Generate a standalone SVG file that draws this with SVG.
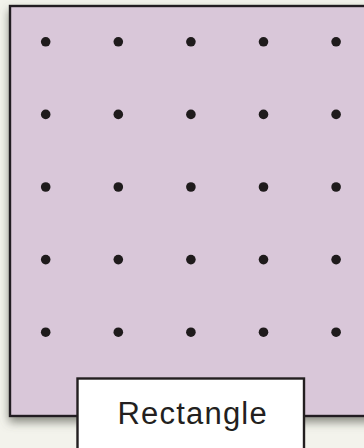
<svg xmlns="http://www.w3.org/2000/svg" width="364" height="448" viewBox="0 0 364 448">
  <defs>
    <style>
      .frame { stroke: #231f20; stroke-width: 2.4; }
      .dot { fill: #1f1b1c; }
      .label { font-family: "Liberation Sans", Arial, Helvetica, sans-serif; font-size: 31px; letter-spacing: 1.2px; fill: #231f20; }
    </style>
    <filter id="shadow" x="-10%" y="-10%" width="120%" height="130%">
      <feDropShadow dx="0" dy="5" stdDeviation="5" flood-color="#5c5f55" flood-opacity="0.7"/>
    </filter>
  </defs>
  <rect x="0" y="0" width="364" height="448" fill="#f3f3ec"/>
  <g id="rectangle">
    <rect class="frame" x="10" y="6" width="370" height="410" fill="#d9c7d9" filter="url(#shadow)"/>
    <g id="dots">
      <circle class="dot" cx="45.7" cy="41.8" r="4.8"/>
      <circle class="dot" cx="118.3" cy="41.8" r="4.8"/>
      <circle class="dot" cx="190.9" cy="41.8" r="4.8"/>
      <circle class="dot" cx="263.5" cy="41.8" r="4.8"/>
      <circle class="dot" cx="336.1" cy="41.8" r="4.8"/>
      <circle class="dot" cx="45.7" cy="114.4" r="4.8"/>
      <circle class="dot" cx="118.3" cy="114.4" r="4.8"/>
      <circle class="dot" cx="190.9" cy="114.4" r="4.8"/>
      <circle class="dot" cx="263.5" cy="114.4" r="4.8"/>
      <circle class="dot" cx="336.1" cy="114.4" r="4.8"/>
      <circle class="dot" cx="45.7" cy="187" r="4.8"/>
      <circle class="dot" cx="118.3" cy="187" r="4.8"/>
      <circle class="dot" cx="190.9" cy="187" r="4.8"/>
      <circle class="dot" cx="263.5" cy="187" r="4.8"/>
      <circle class="dot" cx="336.1" cy="187" r="4.8"/>
      <circle class="dot" cx="45.7" cy="259.6" r="4.8"/>
      <circle class="dot" cx="118.3" cy="259.6" r="4.8"/>
      <circle class="dot" cx="190.9" cy="259.6" r="4.8"/>
      <circle class="dot" cx="263.5" cy="259.6" r="4.8"/>
      <circle class="dot" cx="336.1" cy="259.6" r="4.8"/>
      <circle class="dot" cx="45.7" cy="332.2" r="4.8"/>
      <circle class="dot" cx="118.3" cy="332.2" r="4.8"/>
      <circle class="dot" cx="190.9" cy="332.2" r="4.8"/>
      <circle class="dot" cx="263.5" cy="332.2" r="4.8"/>
      <circle class="dot" cx="336.1" cy="332.2" r="4.8"/>
    </g>
  </g>
  <g id="label-box">
    <rect class="frame" x="77.5" y="378.5" width="226.5" height="80" fill="#ffffff"/>
    <text class="label" x="117.5" y="424.3">Rectangle</text>
  </g>
</svg>
